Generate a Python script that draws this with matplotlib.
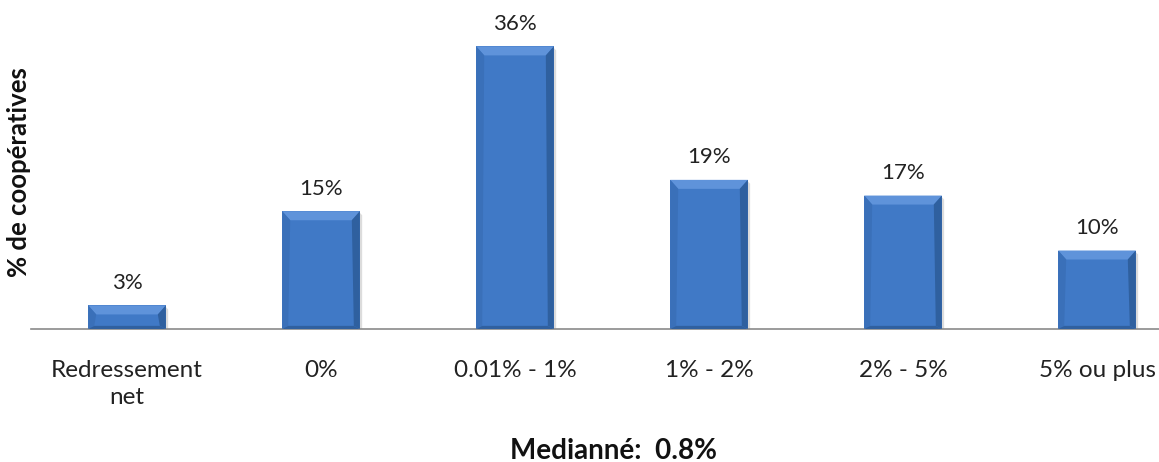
import matplotlib
matplotlib.use("Agg")
import matplotlib.pyplot as plt
from matplotlib.patches import Polygon

categories = ["Redressement\nnet", "0%", "0.01% - 1%", "1% - 2%", "2% - 5%", "5% ou plus"]
values = [3, 15, 36, 19, 17, 10]
value_labels = ["3%", "15%", "36%", "19%", "17%", "10%"]
ylabel = "% de coopératives"
footer = "Medianné:  0.8%"

plt.rcParams['font.family'] = ['Lato', 'DejaVu Sans']

W, H = 1159, 462
fig = plt.figure(figsize=(W / 100, H / 100), dpi=100)
ax = fig.add_axes([31 / W, (H - 329) / H, (W - 31) / W, 329 / H])

x = list(range(len(categories)))
main = "#4079c6"
bars = ax.bar(x, values, width=0.40, color=main, zorder=2, linewidth=0)

ax.set_xlim(-0.495, (W - 127) / 194)
ax.set_ylim(0, 329 / 7.85)

# bevel decorations derived from the bar geometry
bx = 8 / 194
by = 9 / 7.85
sx = 6 / 194
for b in bars:
    x0, y0 = b.get_x(), b.get_y()
    x1, y1 = x0 + b.get_width(), y0 + b.get_height()
    # top bevel (light)
    ax.add_patch(Polygon([(x0, y1), (x1, y1), (x1 - bx, y1 - by), (x0 + bx, y1 - by)],
                         closed=True, color="#5f93da", lw=0, zorder=3))
    # right bevel (dark)
    ax.add_patch(Polygon([(x1, y1), (x1, y0), (x1 - sx, y0 + 0.4), (x1 - bx, y1 - by)],
                         closed=True, color="#2f609f", lw=0, zorder=3))
    # left bevel
    ax.add_patch(Polygon([(x0, y1), (x0, y0), (x0 + sx, y0 + 0.4), (x0 + bx, y1 - by)],
                         closed=True, color="#3a70b9", lw=0, zorder=3))
    # bottom bevel
    ax.add_patch(Polygon([(x0, y0), (x1, y0), (x1 - sx, y0 + 0.4), (x0 + sx, y0 + 0.4)],
                         closed=True, color="#30609f", lw=0, zorder=3))
    # shadow
    ax.add_patch(Polygon([(x0 + 0.01, y0), (x1 + 0.012, y0), (x1 + 0.012, y1 - 0.5), (x1, y1 - 0.2)],
                         closed=True, color="#dcdcdc", lw=0, zorder=1))

for b, lab in zip(bars, value_labels):
    ax.annotate(lab, (b.get_x() + b.get_width() / 2, b.get_height()),
                xytext=(0, 9), textcoords="offset points",
                ha="center", va="bottom", fontsize=16, color="#222222")

ax.set_xticks(x)
ax.set_xticklabels(categories, fontsize=17.5, color="#222222", linespacing=1.35)
ax.tick_params(axis="x", length=0, pad=22)
ax.set_yticks([])
for s in ["top", "right", "left"]:
    ax.spines[s].set_visible(False)
ax.spines["bottom"].set_color("#8a8a8a")
ax.spines["bottom"].set_linewidth(1.2)

fig.text(19 / W, 1 - 172 / H, ylabel, rotation=90, ha="center", va="center",
         fontsize=18.5, fontweight="bold", color="#111111")
fig.text(613 / W, 1 - 451 / H, footer, ha="center", va="center",
         fontsize=20, fontweight="bold", color="#111111")

fig.savefig("out.png", dpi=100)
